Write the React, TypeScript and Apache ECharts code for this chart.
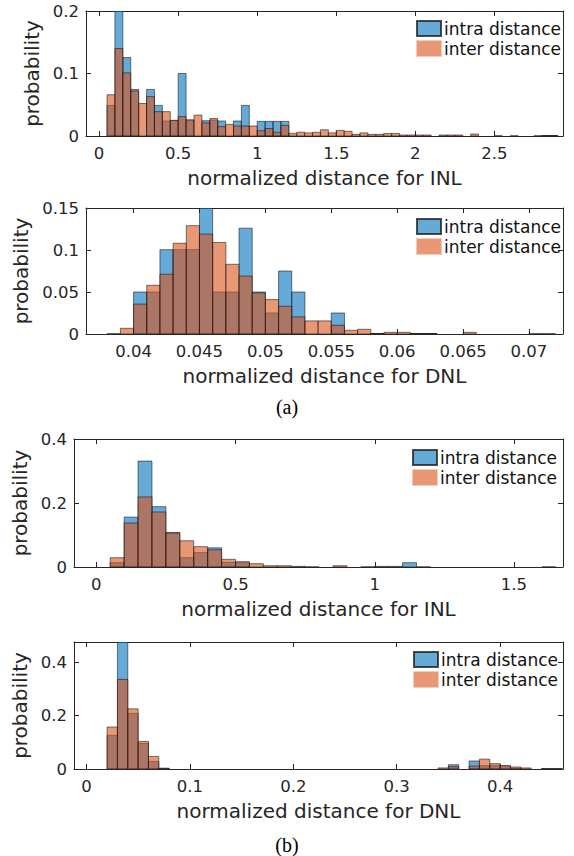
import React, { useEffect, useRef } from "react";
import * as echarts from "echarts";

// ---------- data ----------
const seriesNames = ["intra distance", "inter distance"];

// (a) INL
const inlA_start = 0.05;
const inlA_width = 0.05;
const inlA_intra = [
  0.049, 0.25, 0.1255, 0.0745, 0, 0.0745, 0.049, 0.024, 0.025, 0.1,
  0.025, 0, 0.0245, 0.0255, 0.024, 0, 0.024, 0.049, 0, 0.0234,
  0.0234, 0.0234, 0.0234, 0, 0, 0, 0, 0, 0, 0,
  0, 0, 0, 0, 0, 0, 0, 0, 0, 0,
  0, 0, 0, 0, 0, 0, 0, 0, 0, 0,
  0, 0, 0, 0, 0, 0.0006, 0.0006,
];
const inlA_inter = [
  0.066, 0.14, 0.101, 0.072, 0.052, 0.063, 0.039, 0.039, 0.025, 0.031,
  0.026, 0.0335, 0.021, 0.028, 0.015, 0.0186, 0.016, 0.016, 0.016, 0.0085,
  0.012, 0.006, 0.017, 0.0043, 0.006, 0.005, 0.006, 0.01, 0.005, 0.009,
  0.0075, 0.0027, 0.005, 0.0027, 0.0027, 0.004, 0.004, 0.0016, 0.0016, 0.0016,
  0.0016, 0, 0.0016, 0.0016, 0.0016, 0, 0.0032, 0, 0, 0.0004,
  0, 0.0004, 0, 0, 0.0004, 0.0006, 0.0006,
];
const inlA_xTicks = [0, 0.5, 1, 1.5, 2, 2.5];
const inlA_yTicks = [0, 0.1, 0.2];

// (a) DNL
const dnlA_start = 0.038;
const dnlA_width = 0.001;
const dnlA_intra = [
  0.0004, 0, 0.05, 0.05, 0.1004, 0.1004, 0.1004, 0.17, 0.05, 0.05,
  0.126, 0.05, 0.025, 0.075, 0.05, 0, 0, 0.025, 0, 0,
  0.0006, 0, 0, 0.0006, 0.0006, 0, 0, 0, 0, 0,
  0, 0, 0.0004, 0.0004,
];
const dnlA_inter = [
  0, 0.0068, 0.0356, 0.058, 0.0712, 0.108, 0.129, 0.119, 0.109, 0.083,
  0.069, 0.049, 0.041, 0.033, 0.0204, 0.0156, 0.0156, 0.0104, 0.0044, 0.0056,
  0.0006, 0.002, 0.002, 0.0006, 0.0006, 0, 0, 0.002, 0, 0,
  0, 0, 0, 0,
];
const dnlA_xTicks = [0.04, 0.045, 0.05, 0.055, 0.06, 0.065, 0.07];
const dnlA_yTicks = [0, 0.05, 0.1, 0.15];

// (b) INL
const inlB_start = 0.05;
const inlB_width = 0.05;
const inlB_intra = [
  0.0135, 0.156, 0.331, 0.1885, 0.108, 0.029, 0.045, 0.06, 0.0146, 0.0135,
  0, 0, 0, 0, 0, 0, 0, 0, 0, 0,
  0, 0.0135, 0.0005, 0, 0, 0, 0, 0, 0, 0,
  0, 0.0005,
];
const inlB_inter = [
  0.029, 0.1375, 0.219, 0.172, 0.106, 0.082, 0.0635, 0.054, 0.024, 0.0167,
  0.0104, 0.004, 0.004, 0.002, 0.0005, 0, 0.004, 0, 0.0005, 0.002,
  0.002, 0, 0, 0, 0, 0, 0, 0, 0, 0,
  0, 0,
];
const inlB_xTicks = [0, 0.5, 1, 1.5];
const inlB_yTicks = [0, 0.2, 0.4];

// (b) DNL
const dnlB_start = 0.02;
const dnlB_width = 0.01;
const dnlB_intra = [
  0.126, 0.55, 0.208, 0.0955, 0.028, 0.002, 0, 0, 0, 0,
  0, 0, 0, 0, 0, 0, 0, 0, 0, 0,
  0, 0, 0, 0, 0, 0, 0, 0, 0, 0,
  0, 0, 0, 0.016, 0, 0.03, 0.0124, 0.0127, 0.011, 0.0025,
  0, 0, 0.0008, 0.0008,
];
const dnlB_inter = [
  0.157, 0.335, 0.225, 0.103, 0.047, 0.003, 0, 0, 0, 0,
  0, 0, 0, 0, 0, 0, 0, 0, 0, 0,
  0, 0, 0, 0, 0, 0, 0, 0, 0, 0,
  0, 0, 0.004, 0.0087, 0, 0.011, 0.037, 0.02, 0.013, 0.0075,
  0.004, 0, 0.0008, 0.0008,
];
const dnlB_xTicks = [0, 0.1, 0.2, 0.3, 0.4];
const dnlB_yTicks = [0, 0.2, 0.4];

// ---------- styling ----------
const FONT = "'DejaVu Sans', sans-serif";
const AXIS_COLOR = "#262626";
const BLUE = "rgba(0,114,189,0.6)";
const ORANGE = "rgba(217,83,25,0.6)";
const EDGE = "rgba(20,20,20,0.7)";

type Panel = {
  start: number;
  width: number;
  intra: number[];
  inter: number[];
  xTicks: number[];
  yTicks: number[];
  xMin: number;
  xMax: number;
  yMax: number;
  grid: { left: number; top: number; width: number; height: number };
  xName: string;
  yNameGap: number;
  legend: { left: number; top: number };
};

const panels: Panel[] = [
  {
    start: inlA_start, width: inlA_width, intra: inlA_intra, inter: inlA_inter,
    xTicks: inlA_xTicks, yTicks: inlA_yTicks,
    xMin: -0.083, xMax: 2.934, yMax: 0.2,
    grid: { left: 86, top: 11, width: 477, height: 125 },
    xName: "normalized distance for INL", yNameGap: 36,
    legend: { left: 416, top: 20 },
  },
  {
    start: dnlA_start, width: dnlA_width, intra: dnlA_intra, inter: dnlA_inter,
    xTicks: dnlA_xTicks, yTicks: dnlA_yTicks,
    xMin: 0.03639, xMax: 0.07258, yMax: 0.15,
    grid: { left: 86, top: 208, width: 477, height: 126 },
    xName: "normalized distance for DNL", yNameGap: 40,
    legend: { left: 416, top: 218 },
  },
  {
    start: inlB_start, width: inlB_width, intra: inlB_intra, inter: inlB_inter,
    xTicks: inlB_xTicks, yTicks: inlB_yTicks,
    xMin: -0.08, xMax: 1.676, yMax: 0.4,
    grid: { left: 74, top: 439, width: 489, height: 128 },
    xName: "normalized distance for INL", yNameGap: 42,
    legend: { left: 412, top: 449 },
  },
  {
    start: dnlB_start, width: dnlB_width, intra: dnlB_intra, inter: dnlB_inter,
    xTicks: dnlB_xTicks, yTicks: dnlB_yTicks,
    xMin: -0.012, xMax: 0.4608, yMax: 0.475,
    grid: { left: 74, top: 642, width: 489, height: 127 },
    xName: "normalized distance for DNL", yNameGap: 42,
    legend: { left: 413, top: 651 },
  },
];

function histData(start: number, width: number, values: number[]) {
  const out: number[][] = [];
  values.forEach((v, i) => {
    if (v > 0) {
      const x0 = +(start + i * width).toFixed(6);
      const x1 = +(start + (i + 1) * width).toFixed(6);
      out.push([x0, x1, v]);
    }
  });
  return out;
}

function makeRender(fill: string) {
  return (params: any, api: any) => {
    const x0 = api.value(0);
    const x1 = api.value(1);
    const y = api.value(2);
    const p0 = api.coord([x0, y]);
    const p1 = api.coord([x1, 0]);
    return {
      type: "rect",
      shape: { x: p0[0], y: p0[1], width: p1[0] - p0[0], height: p1[1] - p0[1] },
      style: { fill, stroke: EDGE, lineWidth: 0.8 },
    };
  };
}

function buildOption() {
  const grid: any[] = [];
  const xAxis: any[] = [];
  const yAxis: any[] = [];
  const series: any[] = [];
  const legend: any[] = [];

  panels.forEach((p, i) => {
    grid.push({ ...p.grid, containLabel: false });
    const baseLine = { show: true, onZero: false, lineStyle: { color: AXIS_COLOR, width: 1 } };
    xAxis.push({
      type: "value", gridIndex: i, position: "bottom", min: p.xMin, max: p.xMax,
      axisLine: baseLine,
      axisTick: { show: true, inside: true, length: 5, customValues: p.xTicks, lineStyle: { color: AXIS_COLOR } },
      axisLabel: { customValues: p.xTicks, margin: 9, fontSize: 16.5, fontFamily: FONT, color: AXIS_COLOR },
      splitLine: { show: false },
      name: p.xName, nameLocation: "middle", nameGap: 32,
      nameTextStyle: { fontSize: 20, fontFamily: FONT, color: AXIS_COLOR },
    });
    xAxis.push({
      type: "value", gridIndex: i, position: "top", min: p.xMin, max: p.xMax,
      axisLine: baseLine,
      axisTick: { show: true, inside: true, length: 5, customValues: p.xTicks, lineStyle: { color: AXIS_COLOR } },
      axisLabel: { show: false },
      splitLine: { show: false },
    });
    yAxis.push({
      type: "value", gridIndex: i, position: "left", min: 0, max: p.yMax,
      axisLine: baseLine,
      axisTick: { show: true, inside: true, length: 5, customValues: p.yTicks, lineStyle: { color: AXIS_COLOR } },
      axisLabel: { customValues: p.yTicks, margin: 7, fontSize: 16.5, fontFamily: FONT, color: AXIS_COLOR },
      splitLine: { show: false },
      name: "probability", nameLocation: "middle", nameGap: p.yNameGap,
      nameTextStyle: { fontSize: 20, fontFamily: FONT, color: AXIS_COLOR },
    });
    yAxis.push({
      type: "value", gridIndex: i, position: "right", min: 0, max: p.yMax,
      axisLine: baseLine,
      axisTick: { show: true, inside: true, length: 5, customValues: p.yTicks, lineStyle: { color: AXIS_COLOR } },
      axisLabel: { show: false },
      splitLine: { show: false },
    });

    series.push({
      type: "custom", name: seriesNames[0], xAxisIndex: 2 * i, yAxisIndex: 2 * i,
      clip: true,
      itemStyle: { color: BLUE, borderColor: "rgba(20,20,20,0.75)", borderWidth: 0.8 },
      encode: { x: [0, 1], y: 2 },
      renderItem: makeRender(BLUE),
      data: histData(p.start, p.width, p.intra),
    });
    series.push({
      type: "custom", name: seriesNames[1], xAxisIndex: 2 * i, yAxisIndex: 2 * i,
      clip: true,
      itemStyle: { color: ORANGE, borderColor: "rgba(232,152,117,0.5)", borderWidth: 0.8 },
      encode: { x: [0, 1], y: 2 },
      renderItem: makeRender(ORANGE),
      data: histData(p.start, p.width, p.inter),
    });

    legend.push({
      left: p.legend.left, top: p.legend.top, orient: "vertical",
      padding: 0, itemWidth: 24, itemHeight: 15, itemGap: 3,
      icon: "rect", selectedMode: false,
      textStyle: { fontSize: 17, fontFamily: FONT, color: "#111", padding: [0, 0, 0, -2] },
      data: seriesNames,
    });
  });

  return {
    animation: false,
    backgroundColor: "#ffffff",
    grid, xAxis, yAxis, series, legend,
    graphic: [
      {
        type: "text", x: 287, y: 407,
        style: { text: "(a)", font: "20px \"Liberation Serif\"", fill: "#000", align: "center", verticalAlign: "middle" },
      },
      {
        type: "text", x: 287, y: 845,
        style: { text: "(b)", font: "20px \"Liberation Serif\"", fill: "#000", align: "center", verticalAlign: "middle" },
      },
    ],
  };
}

export default function App() {
  const ref = useRef<HTMLDivElement>(null);
  useEffect(() => {
    if (!ref.current) return;
    const chart = echarts.init(ref.current, undefined, { renderer: "svg" });
    chart.setOption(buildOption() as any);
    return () => chart.dispose();
  }, []);
  return (
    <div
      ref={ref}
      style={{ position: "fixed", left: 0, top: 0, width: 574, height: 856, background: "#fff" }}
    />
  );
}
